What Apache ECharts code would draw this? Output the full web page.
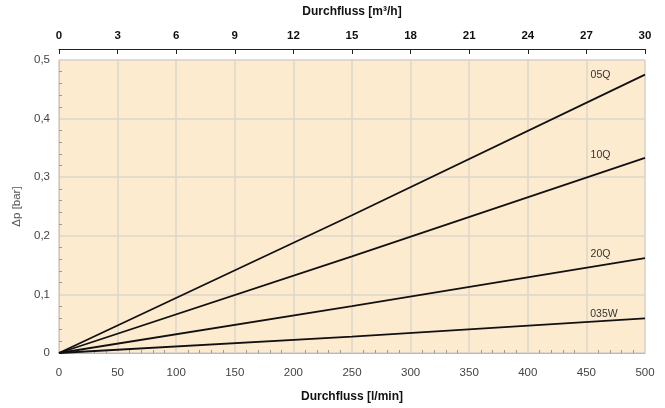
<!DOCTYPE html>
<html><head><meta charset="utf-8">
<script src="https://cdn.jsdelivr.net/npm/echarts@6/dist/echarts.min.js"></script>
<style>html,body{margin:0;padding:0;background:#fff}#c{width:665px;height:408px}</style>
</head><body><div id="c"></div>
<script>
const flowLmin = [0, 250, 500];
const seriesNames = ['05Q', '10Q', '20Q', '035W'];
const s05Q = [0, 0.235, 0.475];
const s10Q = [0, 0.165, 0.333];
const s20Q = [0, 0.080, 0.162];
const s035W = [0, 0.028, 0.059];
const labelX = [462, 462, 462, 465];
const labelY = [0.475, 0.338, 0.168, 0.066];
const topTicks = [0, 3, 6, 9, 12, 15, 18, 21, 24, 27, 30];

const FONT = '"Liberation Sans Narrow", "Liberation Sans", Arial, sans-serif';
const allSeries = [s05Q, s10Q, s20Q, s035W];

const chart = echarts.init(document.getElementById('c'));
chart.setOption({
  animation: false,
  textStyle: {fontFamily: FONT},
  grid: {left: 59, right: 20, top: 60, bottom: 51, show: true, backgroundColor: '#fdebd0', borderColor: '#d8d2c8', borderWidth: 1},
  xAxis: [
    {type: 'value', min: 0, max: 500, interval: 50, position: 'bottom',
     axisLine: {lineStyle: {color: '#b8b8b8', width: 1}},
     axisTick: {show: false},
     minorTick: {show: true, splitNumber: 5, length: -3, lineStyle: {color: '#999'}},
     axisLabel: {color: '#444', fontSize: 11.5, margin: 14, fontFamily: FONT},
     splitLine: {show: true, lineStyle: {color: '#dcd6cc', width: 1.5}},
     name: 'Durchfluss [l/min]', nameLocation: 'middle', nameGap: 38,
     nameTextStyle: {color: '#111', fontWeight: 'bold', fontSize: 12, fontFamily: FONT}},
    {type: 'value', min: 0, max: 30, interval: 3, position: 'top', offset: 11,
     axisLine: {lineStyle: {color: '#222', width: 1}},
     axisTick: {show: true, inside: true, length: 5, lineStyle: {color: '#222'}},
     axisLabel: {color: '#111', fontWeight: 'bold', fontSize: 11.5, margin: 7, fontFamily: FONT},
     splitLine: {show: false},
     name: 'Durchfluss [m³/h]', nameLocation: 'middle', nameGap: 31,
     nameTextStyle: {color: '#111', fontWeight: 'bold', fontSize: 12, fontFamily: FONT}}
  ],
  yAxis: {type: 'value', min: 0, max: 0.5, interval: 0.1,
    axisLine: {show: true, lineStyle: {color: '#c8c8c8'}},
    axisTick: {show: false},
    minorTick: {show: true, splitNumber: 5, length: -3, lineStyle: {color: '#999'}},
    axisLabel: {color: '#444', fontSize: 11.5, margin: 9, fontFamily: FONT,
      formatter: v => String(v).replace('.', ',')},
    splitLine: {lineStyle: {color: '#dcd6cc', width: 1.5}},
    name: 'Δp [bar]', nameLocation: 'middle', nameGap: 34, nameRotate: 90,
    nameTextStyle: {color: '#555', fontSize: 11.5, fontFamily: FONT}},
  series: allSeries.map((vals, i) => ({
    type: 'line', name: seriesNames[i], xAxisIndex: 0, symbol: 'none',
    data: flowLmin.map((x, j) => [x, vals[j]]),
    lineStyle: {color: '#111', width: 1.8},
    markPoint: {symbol: 'circle', symbolSize: 0,
      data: [{coord: [labelX[i], labelY[i]], value: seriesNames[i]}],
      label: {show: true, formatter: seriesNames[i], color: '#333', fontSize: 10.5, position: 'inside', fontFamily: FONT}}
  }))
});
</script></body></html>
